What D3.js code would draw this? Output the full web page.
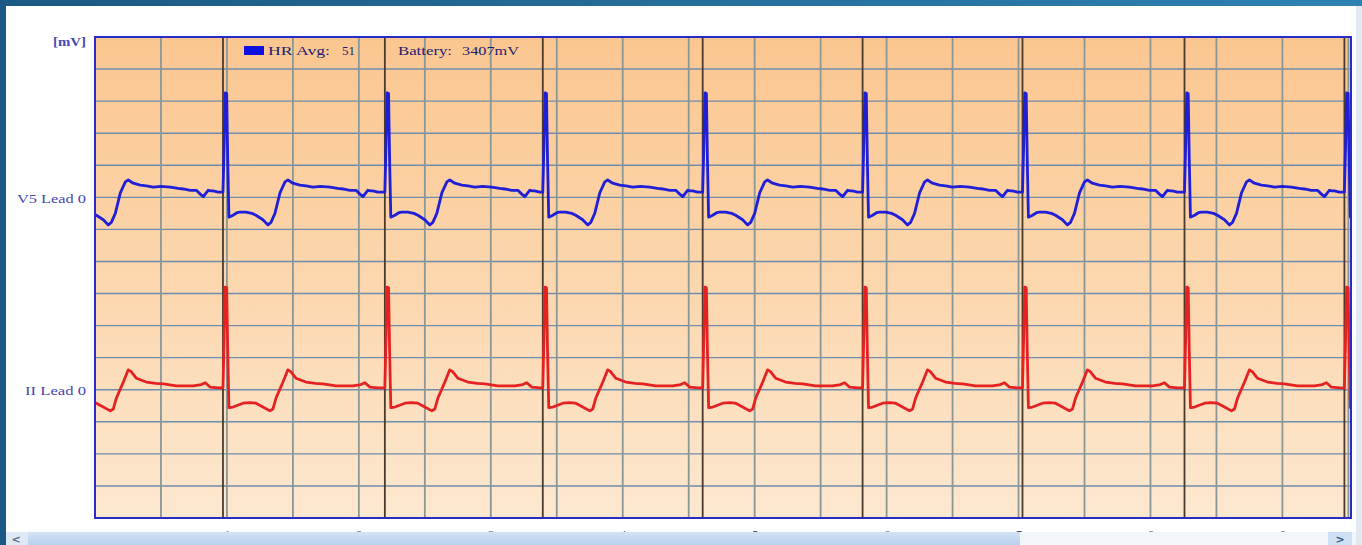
<!DOCTYPE html>
<html><head><meta charset="utf-8">
<script src="https://cdn.jsdelivr.net/npm/d3@7"></script>
<style>
html,body{margin:0;padding:0;width:1362px;height:545px;overflow:hidden;background:#fff;}
svg{display:block}
</style></head><body>
<svg id="chart" width="1362" height="545"></svg>
<script>
// Detected beat onsets (seconds from the start of the strip)
const beatTimes = [-0.24, 0.97, 2.197, 3.394, 4.606, 5.818, 7.03, 8.258, 9.47];

// One averaged beat per lead: [seconds after onset, mV]
const v5Beat = [
  [0.000, 0.08], [0.010, 0.90], [0.017, 1.63], [0.028, 1.62], [0.036, 0.60],
  [0.045, -0.31], [0.076, -0.28], [0.106, -0.24], [0.129, -0.23], [0.174, -0.23],
  [0.220, -0.25], [0.250, -0.28], [0.303, -0.35], [0.341, -0.43], [0.364, -0.39],
  [0.394, -0.25], [0.432, 0.07], [0.470, 0.24], [0.492, 0.27], [0.530, 0.22],
  [0.583, 0.19], [0.630, 0.18], [0.682, 0.16], [0.740, 0.17], [0.811, 0.16],
  [0.870, 0.14], [0.909, 0.13], [0.962, 0.11], [1.008, 0.11], [1.038, 0.05],
  [1.061, 0.01], [1.083, 0.07], [1.098, 0.11], [1.120, 0.10], [1.136, 0.10],
  [1.174, 0.08]
];
const iiBeat = [
  [0.000, 0.03], [0.010, 0.90], [0.017, 1.60], [0.028, 1.59], [0.036, 0.62],
  [0.045, -0.28], [0.076, -0.27], [0.152, -0.21], [0.200, -0.20], [0.250, -0.21],
  [0.303, -0.27], [0.356, -0.33], [0.379, -0.30], [0.402, -0.13], [0.455, 0.12],
  [0.492, 0.31], [0.515, 0.28], [0.553, 0.18], [0.629, 0.12], [0.700, 0.10],
  [0.758, 0.09], [0.856, 0.06], [0.920, 0.06], [0.985, 0.06], [1.045, 0.08],
  [1.076, 0.11], [1.114, 0.04], [1.174, 0.03]
];

const leadNames = ["V5 Lead 0", "II Lead 0"];
const leadOffsets = [5.0, 2.0];          // display baseline of each lead (mV)
const leadColors = ["#1f1fd8", "#e52222"];
const timeTicks = [1, 2, 3, 4, 5, 6, 7, 8, 9];
const hrAvg = 51;
const batteryMv = 3407;

const W = 1362, H = 545;
const plot = {left: 95, top: 37, right: 1351, bottom: 518};
const tMax = 9.52, yMax = 7.5;

const svg = d3.select("#chart");
const defs = svg.append("defs");

const frameGrad = defs.append("linearGradient").attr("id", "frame").attr("x1", 0).attr("x2", 1).attr("y1", 0).attr("y2", 0);
frameGrad.append("stop").attr("offset", 0).attr("stop-color", "#1c5884");
frameGrad.append("stop").attr("offset", 1).attr("stop-color", "#2e82b3");

const bgGrad = defs.append("linearGradient").attr("id", "paper").attr("x1", 0).attr("x2", 0).attr("y1", 0).attr("y2", 1);
bgGrad.append("stop").attr("offset", 0).attr("stop-color", "#fbc690");
bgGrad.append("stop").attr("offset", 0.5).attr("stop-color", "#fcd6ad");
bgGrad.append("stop").attr("offset", 1).attr("stop-color", "#fde8d0");

const thumbGrad = defs.append("linearGradient").attr("id", "thumb").attr("x1", 0).attr("x2", 0).attr("y1", 0).attr("y2", 1);
thumbGrad.append("stop").attr("offset", 0).attr("stop-color", "#d3e3f6");
thumbGrad.append("stop").attr("offset", 1).attr("stop-color", "#b9d1ee");

defs.append("clipPath").attr("id", "plotClip").append("rect")
  .attr("x", plot.left).attr("y", plot.top)
  .attr("width", plot.right - plot.left).attr("height", plot.bottom - plot.top);

// window frame
svg.append("rect").attr("width", W).attr("height", H).attr("fill", "url(#frame)");
svg.append("rect").attr("x", 6).attr("y", 6).attr("width", 1350).attr("height", H - 6).attr("fill", "#ffffff");
svg.append("rect").attr("x", 1356).attr("y", 6).attr("width", 6).attr("height", H - 6).attr("fill", "#e3e9f0");

const x = d3.scaleLinear().domain([0, tMax]).range([plot.left, plot.right]);
const y = d3.scaleLinear().domain([0, yMax]).range([plot.bottom, plot.top]);

// paper
svg.append("rect").attr("x", plot.left).attr("y", plot.top)
  .attr("width", plot.right - plot.left).attr("height", plot.bottom - plot.top)
  .attr("fill", "url(#paper)");

const grid = svg.append("g").attr("clip-path", "url(#plotClip)");
grid.selectAll("line.h").data(d3.range(0.5, yMax, 0.5)).join("line")
  .attr("class", "h")
  .attr("x1", plot.left).attr("x2", plot.right)
  .attr("y1", d => y(d)).attr("y2", d => y(d))
  .attr("stroke", "#6f8db0").attr("stroke-width", 1.4);
grid.selectAll("line.v").data(d3.range(0.5, tMax, 0.5)).join("line")
  .attr("class", "v")
  .attr("x1", d => x(d)).attr("x2", d => x(d))
  .attr("y1", plot.top).attr("y2", plot.bottom)
  .attr("stroke", "#8a9797").attr("stroke-width", 1.8);
grid.selectAll("line.beat").data(beatTimes.filter(t => t > 0 && t < tMax)).join("line")
  .attr("class", "beat")
  .attr("x1", d => x(d)).attr("x2", d => x(d))
  .attr("y1", plot.top).attr("y2", plot.bottom)
  .attr("stroke", "#4a3a2b").attr("stroke-width", 1.8);

// build each lead's trace by placing its beat at every onset
function trace(beat, offset) {
  const pts = [];
  beatTimes.forEach((b, i) => {
    const next = i < beatTimes.length - 1 ? beatTimes[i + 1] : Infinity;
    beat.forEach(([dt, mv]) => {
      const t = b + dt;
      if (t < next) pts.push([t, mv + offset]);
    });
  });
  return pts;
}

const line = d3.line().x(d => x(d[0])).y(d => y(d[1]));
const traces = svg.append("g").attr("clip-path", "url(#plotClip)");
[v5Beat, iiBeat].forEach((beat, i) => {
  const pts = trace(beat, leadOffsets[i]).filter(d => d[0] >= -0.05 && d[0] <= tMax + 0.05);
  traces.append("path").datum(pts)
    .attr("d", line)
    .attr("fill", "none")
    .attr("stroke", leadColors[i])
    .attr("stroke-width", 2.8)
    .attr("stroke-linejoin", "round")
    .attr("stroke-linecap", "round");
});

// plot border
svg.append("rect").attr("x", plot.left).attr("y", plot.top)
  .attr("width", plot.right - plot.left).attr("height", plot.bottom - plot.top)
  .attr("fill", "none").attr("stroke", "#2a2ac8").attr("stroke-width", 2);

const font = "'Liberation Serif', 'DejaVu Serif', serif";

// lead labels on the left
const yAxis = d3.axisLeft(y).tickValues(leadOffsets).tickSize(0).tickPadding(9)
  .tickFormat((d, i) => leadNames[i]);
const ya = svg.append("g").attr("transform", `translate(${plot.left},0)`).call(yAxis);
ya.select(".domain").remove();
ya.selectAll("text").attr("font-family", font).attr("font-size", 12).attr("fill", "#4646b4")
  .attr("dy", "0.4em")
  .attr("textLength", (d, i) => i === 0 ? 69 : 61).attr("lengthAdjust", "spacingAndGlyphs");

svg.append("text").attr("x", 86).attr("y", 46).attr("text-anchor", "end")
  .attr("font-family", font).attr("font-size", 12).attr("font-weight", "bold").attr("fill", "#4646b4")
  .attr("textLength", 33).attr("lengthAdjust", "spacingAndGlyphs").text("[mV]");

// time labels under the strip (partly covered by the scroll bar)
const xAxis = d3.axisBottom(x).tickValues(timeTicks).tickSize(0).tickPadding(12).tickFormat(d3.format("d"));
const xa = svg.append("g").attr("transform", `translate(0,${plot.bottom})`).call(xAxis);
xa.select(".domain").remove();
xa.selectAll("text").attr("font-family", font).attr("font-size", 12).attr("fill", "#555566");

// legend
const legend = svg.append("g").attr("font-family", font).attr("font-size", 12).attr("fill", "#1e1e70");
legend.append("rect").attr("x", 244).attr("y", 46).attr("width", 20).attr("height", 9).attr("fill", "#1010e0");
legend.append("text").attr("x", 268).attr("y", 55).attr("textLength", 62).attr("lengthAdjust", "spacingAndGlyphs").text("HR Avg:");
legend.append("text").attr("x", 342).attr("y", 55).attr("textLength", 13).attr("lengthAdjust", "spacingAndGlyphs").text(hrAvg);
legend.append("text").attr("x", 398).attr("y", 55).attr("textLength", 54).attr("lengthAdjust", "spacingAndGlyphs").text("Battery:");
legend.append("text").attr("x", 462).attr("y", 55).attr("textLength", 57).attr("lengthAdjust", "spacingAndGlyphs").text(batteryMv + "mV");

// horizontal scroll bar
const sb = svg.append("g");
sb.append("rect").attr("x", 6).attr("y", 532).attr("width", 1350).attr("height", 13).attr("fill", "#f2f6fb");
sb.append("rect").attr("x", 6).attr("y", 532).attr("width", 22).attr("height", 13).attr("fill", "#dfe9f6");
sb.append("rect").attr("x", 28).attr("y", 532).attr("width", 992).attr("height", 13).attr("fill", "url(#thumb)");
sb.append("rect").attr("x", 1328).attr("y", 532).attr("width", 24).attr("height", 13).attr("fill", "#cfe0f4");
sb.append("text").attr("x", 16).attr("y", 543).attr("text-anchor", "middle")
  .attr("font-family", "'DejaVu Sans', sans-serif").attr("font-size", 11).attr("font-weight", "bold")
  .attr("fill", "#5a6f8c").text("<");
sb.append("text").attr("x", 1340).attr("y", 543).attr("text-anchor", "middle")
  .attr("font-family", "'DejaVu Sans', sans-serif").attr("font-size", 11).attr("font-weight", "bold")
  .attr("fill", "#3d5a86").text(">");
</script>
</body></html>
